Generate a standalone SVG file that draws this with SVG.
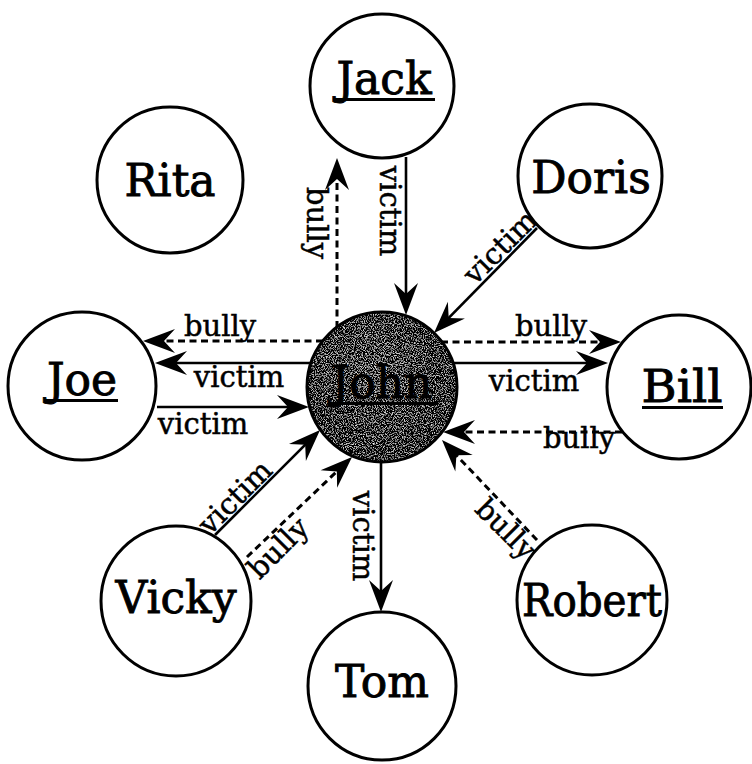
<svg xmlns="http://www.w3.org/2000/svg" width="752" height="764" viewBox="0 0 752 764">
  <style>
    .node { fill: #ffffff; stroke: #000000; stroke-width: 3; }
    .name { font-family: "DejaVu Serif", "Liberation Serif", serif; font-size: 44px; fill: #000000; stroke: #000000; stroke-width: 0.9; text-anchor: middle; }
    .ul { fill: #000000; }
    .edge { fill: none; stroke: #000000; stroke-width: 2.6; marker-end: url(#arrow); }
    .dash { stroke-dasharray: 7 4.5; stroke-width: 3; }
    .elabel { font-family: "DejaVu Serif", "Liberation Serif", serif; font-size: 29px; fill: #000000; stroke: #000000; stroke-width: 0.5; text-anchor: middle; }
  </style>
  <defs>
    <marker id="arrow" markerUnits="userSpaceOnUse" viewBox="-28 -13 36 26" refX="0" refY="0" markerWidth="36" markerHeight="26" orient="auto">
      <path d="M6,0 L-26,-12 L-15,0 L-26,12 Z" fill="#000000" stroke="none"/>
    </marker>
    <radialGradient id="johnGrad" cx="0.45" cy="0.4" r="0.6">
      <stop offset="0" stop-color="#5a5a5a"/>
      <stop offset="0.6" stop-color="#2a2a2a"/>
      <stop offset="1" stop-color="#000000"/>
    </radialGradient>
    <filter id="grain" x="0" y="0" width="1" height="1">
      <feTurbulence type="fractalNoise" baseFrequency="0.9" numOctaves="2" seed="7" result="noise"/>
      <feColorMatrix in="noise" type="matrix" values="1 0 0 0 0  1 0 0 0 0  1 0 0 0 0  0 0 0 0 1" result="gray"/>
      <feComposite in="SourceGraphic" in2="gray" operator="arithmetic" k1="0" k2="1" k3="2.4" k4="-1.2" result="mix"/>
      <feComposite in="mix" in2="SourceAlpha" operator="in"/>
    </filter>
  </defs>

  <g id="connectors">
    <path class="edge" d="M406,157 L406,309"/>
    <path class="edge dash" d="M337,328 L337,164"/>
    <path class="edge" d="M537,228 L438.2,328.7"/>
    <path class="edge dash" d="M323,341 L149,341"/>
    <path class="edge" d="M311,363 L161,363"/>
    <path class="edge" d="M157,407 L303,407"/>
    <path class="edge dash" d="M441,342 L615,342"/>
    <path class="edge" d="M453,363 L602,363"/>
    <path class="edge dash" d="M622,432 L449,432"/>
    <path class="edge dash" d="M537,540 L446.1,444.4"/>
    <path class="edge" d="M381,462 L381,606"/>
    <path class="edge" d="M215,535 L315.8,434.2"/>
    <path class="edge dash" d="M247,557 L347.7,461.1"/>

    <text class="elabel" transform="translate(380,211) rotate(90)">victim</text>
    <text class="elabel" transform="translate(307,223) rotate(90)">bully</text>
    <text class="elabel" transform="translate(507,254) rotate(-45)">victim</text>
    <text class="elabel" x="220" y="336">bully</text>
    <text class="elabel" x="239" y="387">victim</text>
    <text class="elabel" x="203" y="434">victim</text>
    <text class="elabel" x="551" y="336">bully</text>
    <text class="elabel" x="534" y="391">victim</text>
    <text class="elabel" x="579" y="448">bully</text>
    <text class="elabel" transform="translate(499,536) rotate(45)">bully</text>
    <text class="elabel" transform="translate(353,536) rotate(90)">victim</text>
    <text class="elabel" transform="translate(242,504) rotate(-45)">victim</text>
    <text class="elabel" transform="translate(285,555) rotate(-45)">bully</text>
  </g>

  <g id="jack">
    <circle class="node" cx="382" cy="86" r="72"/>
    <text class="name" x="384" y="94">Jack</text>
    <rect class="ul" x="333" y="98" width="102" height="3"/>
  </g>
  <g id="rita">
    <circle class="node" cx="170" cy="180" r="73"/>
    <text class="name" x="170" y="196">Rita</text>
  </g>
  <g id="doris">
    <circle class="node" cx="590" cy="176" r="72"/>
    <text class="name" x="591" y="193">Doris</text>
  </g>
  <g id="joe">
    <circle class="node" cx="82" cy="386" r="74"/>
    <text class="name" x="82" y="395">Joe</text>
    <rect class="ul" x="45" y="399" width="73" height="3"/>
  </g>
  <g id="john">
    <circle cx="382" cy="387" r="75" fill="url(#johnGrad)" filter="url(#grain)"/>
    <circle cx="382" cy="387" r="75" fill="none" stroke="#000000" stroke-width="3"/>
    <text class="name" x="382" y="398">John</text>
    <rect class="ul" x="328" y="402" width="109" height="3"/>
  </g>
  <g id="bill">
    <circle class="node" cx="679" cy="387" r="72"/>
    <text class="name" x="682" y="402" textLength="81" lengthAdjust="spacingAndGlyphs">Bill</text>
    <rect class="ul" x="642" y="406" width="81" height="3"/>
  </g>
  <g id="vicky">
    <circle class="node" cx="176" cy="601" r="75"/>
    <text class="name" x="176" y="613">Vicky</text>
  </g>
  <g id="tom">
    <circle class="node" cx="382" cy="686" r="74"/>
    <text class="name" x="382" y="697">Tom</text>
  </g>
  <g id="robert">
    <circle class="node" cx="592" cy="600" r="75"/>
    <text class="name" x="592" y="616" textLength="140" lengthAdjust="spacingAndGlyphs">Robert</text>
  </g>
</svg>
